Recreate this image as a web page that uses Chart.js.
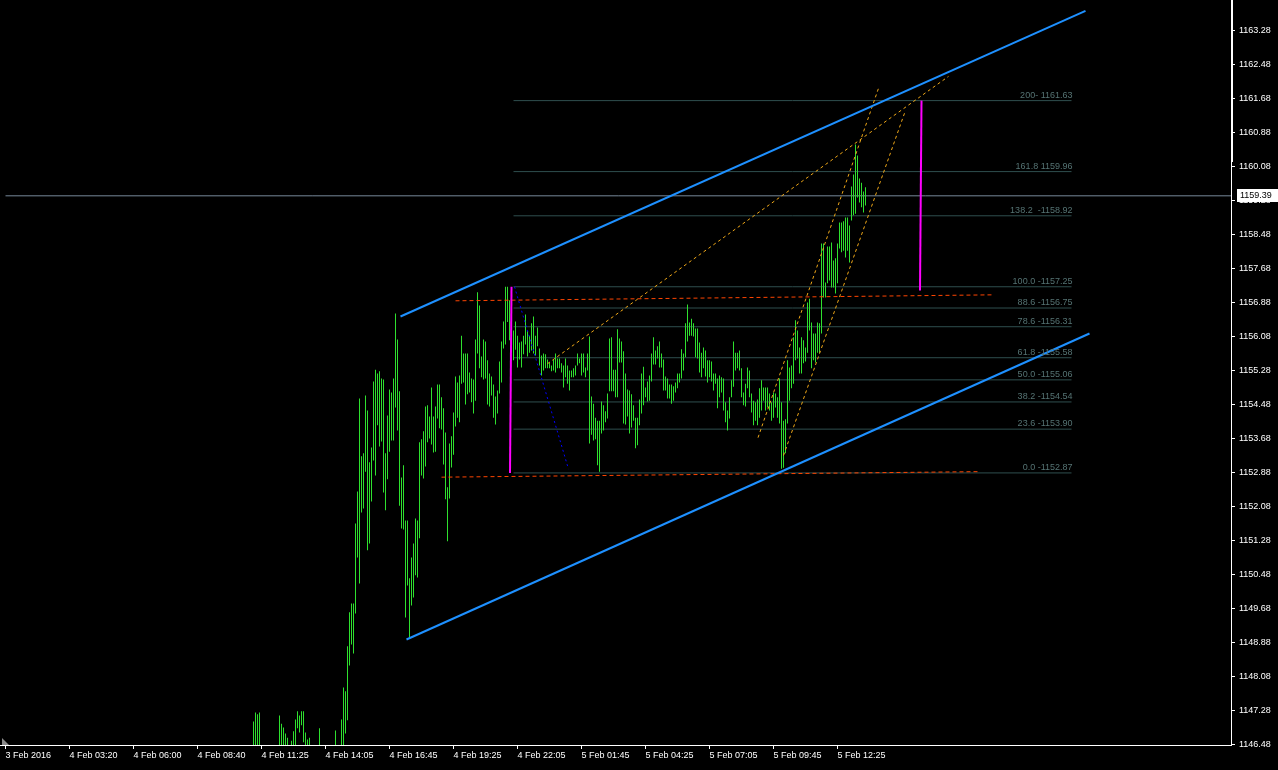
<!DOCTYPE html>
<html>
<head>
<meta charset="utf-8">
<title>XAUUSD M5</title>
<script src="https://cdn.jsdelivr.net/npm/chart.js@4.4.1/dist/chart.umd.min.js"></script>
<style>
  html, body { margin: 0; padding: 0; background: #000; }
  canvas { display: block; }
</style>
</head>
<body>
<canvas id="chart" width="1278" height="770"></canvas>
<script>
// ---- M5 bars: index of the first bar on the time axis, then high / low per bar ----
const firstBar = 124;
const barHigh = [
  1147.02, 1147.23, 1147.19, 1147.23, null, null, null, null, null, null,
  null, null, null, 1147.16, 1146.97, 1146.88, 1146.74, 1146.64, null, 1146.57,
  1146.79, 1147.07, 1147.26, 1147.16, 1147.26, 1147.26, 1146.76, 1146.60, 1146.64, null,
  null, null, null, 1146.86, null, null, null, null, null, null,
  null, 1146.81, null, null, 1147.07, 1147.82, 1147.73, 1148.79, 1149.59, 1149.80,
  1149.80, 1151.68, 1152.43, 1154.62, 1153.26, 1153.33, 1154.69, 1154.34, 1153.12, 1153.47,
  1155.02, 1155.30, 1155.21, 1155.26, 1155.09, 1155.07, 1153.33, 1154.22, 1154.83, 1154.76,
  1155.09, 1156.62, 1156.01, 1154.79, 1152.76, 1153.05, 1151.75, 1151.75, 1150.39, 1150.88,
  1151.21, 1151.80, 1151.75, 1153.59, 1153.66, 1153.85, 1154.43, 1154.46, 1154.20, 1154.88,
  1154.20, 1154.43, 1154.95, 1154.95, 1154.65, 1154.39, 1153.82, 1152.53, 1153.56, 1153.73,
  1154.29, 1155.14, 1155.00, 1155.16, 1156.10, 1155.68, 1155.68, 1155.68, 1155.23, 1155.09,
  1155.07, 1156.01, 1157.12, 1156.81, 1155.61, 1156.01, 1155.96, 1155.52, 1155.21, 1155.14,
  1154.95, 1154.67, 1154.81, 1155.49, 1155.96, 1156.43, 1157.25, 1157.25, 1156.93, 1156.69,
  1156.22, 1156.43, 1156.10, 1155.94, 1155.96, 1156.10, 1156.60, 1156.22, 1156.10, 1156.39,
  1156.55, 1156.10, 1156.29, 1155.80, 1155.63, 1155.68, 1155.66, 1155.54, 1155.47, 1155.40,
  1155.54, 1155.68, 1155.56, 1155.56, 1155.45, 1155.40, 1155.56, 1155.40, 1155.28, 1155.28,
  1155.33, 1155.40, 1155.68, 1155.56, 1155.68, 1155.68, 1155.35, 1155.68, 1156.08, 1154.67,
  1154.50, 1154.17, 1154.10, 1154.10, 1154.55, 1154.46, 1154.32, 1154.74, 1156.03, 1156.06,
  1155.30, 1155.30, 1156.25, 1156.03, 1155.96, 1155.73, 1155.21, 1154.83, 1154.81, 1154.72,
  1154.46, 1154.17, 1154.17, 1154.60, 1155.21, 1155.37, 1154.88, 1155.02, 1155.16, 1155.68,
  1156.06, 1155.75, 1155.85, 1155.96, 1155.68, 1155.54, 1155.14, 1155.09, 1154.95, 1154.95,
  1154.91, 1155.00, 1155.21, 1155.21, 1155.78, 1155.68, 1156.39, 1156.83, 1156.41, 1156.50,
  1156.39, 1156.27, 1156.27, 1155.94, 1155.70, 1155.82, 1155.75, 1155.52, 1155.52, 1155.49,
  1155.21, 1155.21, 1155.09, 1155.16, 1155.12, 1155.09, 1154.53, 1154.34, 1154.65, 1155.05,
  1155.96, 1155.70, 1155.70, 1155.75, 1155.33, 1154.76, 1154.97, 1155.35, 1155.28, 1154.74,
  1154.57, 1154.53, 1154.60, 1154.86, 1155.05, 1154.88, 1154.88, 1154.88, 1154.74, 1154.53,
  1154.76, 1154.74, 1154.65, 1155.09, 1154.53, 1154.10, 1154.13, 1155.52, 1155.35, 1155.40,
  1156.06, 1156.46, 1156.22, 1155.82, 1156.06, 1155.99, 1155.82, 1156.88, 1156.97, 1156.41,
  1156.15, 1156.15, 1156.41, 1156.39, 1158.27, 1158.27, 1157.35, 1158.20, 1158.20, 1158.29,
  1157.87, 1157.92, 1158.27, 1158.76, 1158.76, 1158.79, 1158.88, 1158.88, 1158.69, 1159.61,
  1159.89, 1160.60, 1160.34, 1159.80, 1159.70, 1159.49, 1159.59
];
const barLow = [
  1146.20, 1146.20, 1146.20, 1146.20, null, null, null, null, null, null,
  null, null, null, 1146.20, 1146.20, 1146.20, 1146.20, 1146.20, null, 1146.20,
  1146.20, 1146.20, 1146.86, 1146.76, 1146.93, 1146.53, 1146.20, 1146.20, 1146.20, null,
  null, null, null, 1146.20, null, null, null, null, null, null,
  null, 1146.20, null, null, 1146.20, 1146.20, 1146.74, 1147.05, 1148.34, 1148.83,
  1148.62, 1149.56, 1150.88, 1150.27, 1151.94, 1152.03, 1152.90, 1151.05, 1151.21, 1152.20,
  1153.16, 1152.81, 1153.99, 1153.49, 1153.61, 1152.41, 1151.99, 1152.72, 1153.37, 1153.63,
  1153.63, 1154.41, 1153.87, 1152.10, 1151.56, 1151.54, 1149.47, 1150.22, 1149.00, 1149.75,
  1149.94, 1150.46, 1150.41, 1151.33, 1152.81, 1152.74, 1153.02, 1153.59, 1153.68, 1153.54,
  1153.35, 1153.37, 1154.15, 1153.92, 1153.89, 1153.07, 1152.25, 1151.26, 1152.27, 1153.00,
  1153.30, 1153.96, 1154.17, 1154.06, 1154.97, 1155.00, 1154.48, 1154.72, 1154.76, 1154.53,
  1154.27, 1154.57, 1155.68, 1155.33, 1155.12, 1155.07, 1155.09, 1154.48, 1154.43, 1154.69,
  1154.17, 1154.01, 1154.27, 1154.74, 1155.00, 1155.80, 1155.89, 1156.42, 1155.99, 1155.87,
  1155.52, 1155.77, 1155.35, 1155.54, 1155.35, 1155.66, 1155.89, 1155.61, 1155.70, 1155.75,
  1155.68, 1155.63, 1155.85, 1155.40, 1155.16, 1155.28, 1155.33, 1155.33, 1155.33, 1155.26,
  1155.28, 1155.23, 1155.33, 1155.33, 1155.23, 1154.88, 1155.12, 1154.97, 1154.81, 1155.12,
  1155.12, 1155.16, 1155.40, 1155.45, 1155.16, 1155.23, 1155.12, 1155.28, 1153.56, 1153.77,
  1153.63, 1153.66, 1153.05, 1152.90, 1153.80, 1153.87, 1154.06, 1154.15, 1154.79, 1154.79,
  1154.79, 1154.65, 1154.65, 1155.47, 1155.47, 1154.03, 1154.01, 1154.20, 1153.80, 1153.94,
  1154.10, 1153.45, 1153.52, 1153.99, 1154.27, 1154.46, 1154.65, 1154.55, 1154.57, 1155.02,
  1155.42, 1155.42, 1155.56, 1155.35, 1155.35, 1154.81, 1154.81, 1154.62, 1154.62, 1154.50,
  1154.57, 1154.76, 1154.86, 1155.00, 1155.09, 1155.28, 1155.59, 1155.96, 1156.10, 1156.10,
  1156.08, 1155.59, 1155.56, 1155.23, 1155.12, 1155.33, 1155.14, 1155.00, 1155.12, 1155.02,
  1154.81, 1154.97, 1154.39, 1154.65, 1154.76, 1154.34, 1154.06, 1153.87, 1154.15, 1154.65,
  1154.90, 1155.28, 1155.33, 1155.28, 1154.65, 1154.46, 1154.43, 1154.86, 1154.65, 1154.29,
  1153.99, 1154.10, 1153.99, 1154.17, 1154.34, 1154.57, 1154.34, 1154.41, 1154.34, 1154.10,
  1154.17, 1154.41, 1154.17, 1154.03, 1152.97, 1152.99, 1153.33, 1154.03, 1154.57, 1154.86,
  1154.97, 1155.52, 1155.56, 1155.21, 1155.21, 1155.45, 1155.49, 1155.70, 1156.22, 1155.33,
  1155.52, 1155.47, 1155.70, 1155.70, 1156.15, 1157.00, 1157.00, 1157.33, 1157.40, 1157.23,
  1157.23, 1157.09, 1157.33, 1158.15, 1158.06, 1158.10, 1157.94, 1158.10, 1157.82, 1158.81,
  1158.93, 1158.97, 1159.35, 1159.23, 1159.12, 1159.00, 1159.16
];
const lastPrice = 1159.39;

// ---- axes ----
const timeTickIndex = [0, 32, 64, 96, 128, 160, 192, 224, 256, 288, 320, 352, 384, 416];
const timeTickLabels = ['3 Feb 2016', '4 Feb 03:20', '4 Feb 06:00', '4 Feb 08:40', '4 Feb 11:25',
  '4 Feb 14:05', '4 Feb 16:45', '4 Feb 19:25', '4 Feb 22:05', '5 Feb 01:45', '5 Feb 04:25',
  '5 Feb 07:05', '5 Feb 09:45', '5 Feb 12:25'];
const priceTicks = [1146.48, 1147.28, 1148.08, 1148.88, 1149.68, 1150.48, 1151.28, 1152.08,
  1152.88, 1153.68, 1154.48, 1155.28, 1156.08, 1156.88, 1157.68, 1158.48, 1159.28, 1160.08,
  1160.88, 1161.68, 1162.48, 1163.28];

// ---- Fibonacci retracement / expansion ----
const fibPrices = [1152.87, 1153.90, 1154.54, 1155.06, 1155.58, 1156.31, 1156.75, 1157.25,
  1158.92, 1159.96, 1161.63];
const fibLabels = ['0.0 -1152.87', '23.6 -1153.90', '38.2 -1154.54', '50.0 -1155.06',
  '61.8 -1155.58', '78.6 -1156.31', '88.6 -1156.75', '100.0 -1157.25', '138.2  -1158.92',
  '161.8 1159.96', '200- 1161.63'];
const fibSpan = [254, 533];

// ---- trend lines: [bar index, price] anchors ----
const channelUpper = [[197.5, 1156.55], [540, 1163.74]];
const channelLower = [[200.5, 1148.95], [542, 1156.15]];
const rangeTop = [[225, 1156.92], [493.5, 1157.06]];
const rangeBottom = [[218, 1152.77], [486.5, 1152.90]];
const swingLeg = [[253, 1157.25], [252.25, 1152.87]];
const targetLeg = [[458, 1161.63], [457.25, 1157.16]];
const dropLine = [[254.5, 1157.25], [281.5, 1152.96]];
const fanShallow = [[271, 1155.44], [471.5, 1162.20]];
const fanSteepLeft = [[376.25, 1153.70], [436.5, 1161.92]];
const fanSteepRight = [[389, 1153.28], [450, 1161.40]];

const FONT = '"Liberation Sans", Arial, sans-serif';

const pts = arr => arr.map(([x, y]) => ({ x, y }));
const bars = [];
barHigh.forEach((h, k) => {
  if (h !== null && barLow[k] !== null) bars.push({ x: firstBar + k, y: [barLow[k], h] });
});

function lineSet(points, color, width, dash, order) {
  return {
    type: 'line', data: pts(points), borderColor: color, borderWidth: width,
    borderDash: dash, pointRadius: 0, fill: false, tension: 0, order
  };
}

const fibSets = fibPrices.map(p => lineSet([[fibSpan[0], p], [fibSpan[1], p]], '#2f4f4f', 1, [], 10));

const background = {
  id: 'background',
  beforeDraw(chart) {
    const c = chart.ctx;
    c.save();
    c.fillStyle = '#000';
    c.fillRect(0, 0, chart.width, chart.height);
    c.restore();
  }
};

const fibText = {
  id: 'fibText',
  afterDatasetsDraw(chart) {
    const c = chart.ctx, xs = chart.scales.x, ys = chart.scales.y;
    c.save();
    c.font = '9px ' + FONT;
    c.fillStyle = '#557373';
    c.textAlign = 'right';
    c.textBaseline = 'bottom';
    const xr = xs.getPixelForValue(fibSpan[1]) + 1;
    fibPrices.forEach((p, k) => {
      c.fillText(fibLabels[k], xr, ys.getPixelForValue(p) - 1);
    });
    c.restore();
  }
};

// price tag on the axis, scroll marker on the axis top, chart-shift marker bottom left
const axisMarks = {
  id: 'axisMarks',
  afterDraw(chart) {
    const c = chart.ctx, ys = chart.scales.y, a = chart.chartArea;
    const y = Math.round(ys.getPixelForValue(lastPrice));
    c.save();
    c.fillStyle = '#fff';
    c.fillRect(a.right + 6, y - 7, 41, 13);
    c.fillStyle = '#000';
    c.font = '9px ' + FONT;
    c.textAlign = 'left';
    c.textBaseline = 'middle';
    c.fillText(lastPrice.toFixed(2), a.right + 9, y);
    c.fillStyle = '#fff';
    c.fillRect(a.right, 0, 2, 162);
    c.fillStyle = '#8a8a8a';
    c.beginPath();
    c.moveTo(a.left + 2, a.bottom - 7);
    c.lineTo(a.left + 2, a.bottom);
    c.lineTo(a.left + 9, a.bottom);
    c.closePath();
    c.fill();
    c.restore();
  }
};

new Chart(document.getElementById('chart'), {
  type: 'bar',
  data: {
    datasets: [
      {
        type: 'bar', data: bars, backgroundColor: '#2ee02e', borderWidth: 0,
        barThickness: 1, inflateAmount: 0, grouped: false, order: 5
      },
      lineSet([[0, lastPrice], [620, lastPrice]], '#778899', 1, [], 9),
      ...fibSets,
      lineSet(rangeTop, '#ff4500', 1, [4, 3], 4),
      lineSet(rangeBottom, '#ff4500', 1, [4, 3], 4),
      lineSet(dropLine, '#0000ff', 1, [2, 3], 3),
      lineSet(fanShallow, '#f0a818', 1, [3, 3], 3),
      lineSet(fanSteepLeft, '#f0a818', 1, [3, 3], 3),
      lineSet(fanSteepRight, '#f0a818', 1, [3, 3], 3),
      lineSet(channelUpper, '#1e90ff', 2, [], 1),
      lineSet(channelLower, '#1e90ff', 2, [], 1),
      lineSet(swingLeg, '#ff00ff', 2, [], 0),
      lineSet(targetLeg, '#ff00ff', 2, [], 0)
    ]
  },
  options: {
    responsive: false,
    animation: false,
    events: [],
    layout: { padding: 0 },
    plugins: { legend: { display: false }, tooltip: { enabled: false } },
    scales: {
      x: {
        type: 'linear', position: 'bottom', min: -2.75, max: 612.75, offset: false,
        afterBuildTicks: s => { s.ticks = timeTickIndex.map(v => ({ value: v })); },
        afterFit: s => { s.height = 25; s.paddingLeft = 0; s.paddingRight = 0; },
        ticks: {
          autoSkip: false, maxRotation: 0, minRotation: 0, align: 'start', padding: 1,
          color: '#ffffff', font: { family: FONT, size: 9 },
          callback: (v, i) => timeTickLabels[i]
        },
        grid: { display: true, drawOnChartArea: false, drawTicks: true, tickLength: 4, color: '#ffffff', offset: false },
        border: { display: true, color: '#ffffff', width: 1 }
      },
      y: {
        type: 'linear', position: 'right', min: 1146.4682, max: 1163.9976, beginAtZero: false,
        afterBuildTicks: s => { s.ticks = priceTicks.map(v => ({ value: v })); },
        afterFit: s => { s.width = 47; s.paddingTop = 0; s.paddingBottom = 0; },
        ticks: {
          autoSkip: false, padding: 4, color: '#ffffff', font: { family: FONT, size: 9 },
          callback: v => Number(v).toFixed(2)
        },
        grid: { display: true, drawOnChartArea: false, drawTicks: true, tickLength: 4, color: '#ffffff' },
        border: { display: true, color: '#ffffff', width: 1 }
      }
    }
  },
  plugins: [background, fibText, axisMarks]
});
</script>
</body>
</html>
